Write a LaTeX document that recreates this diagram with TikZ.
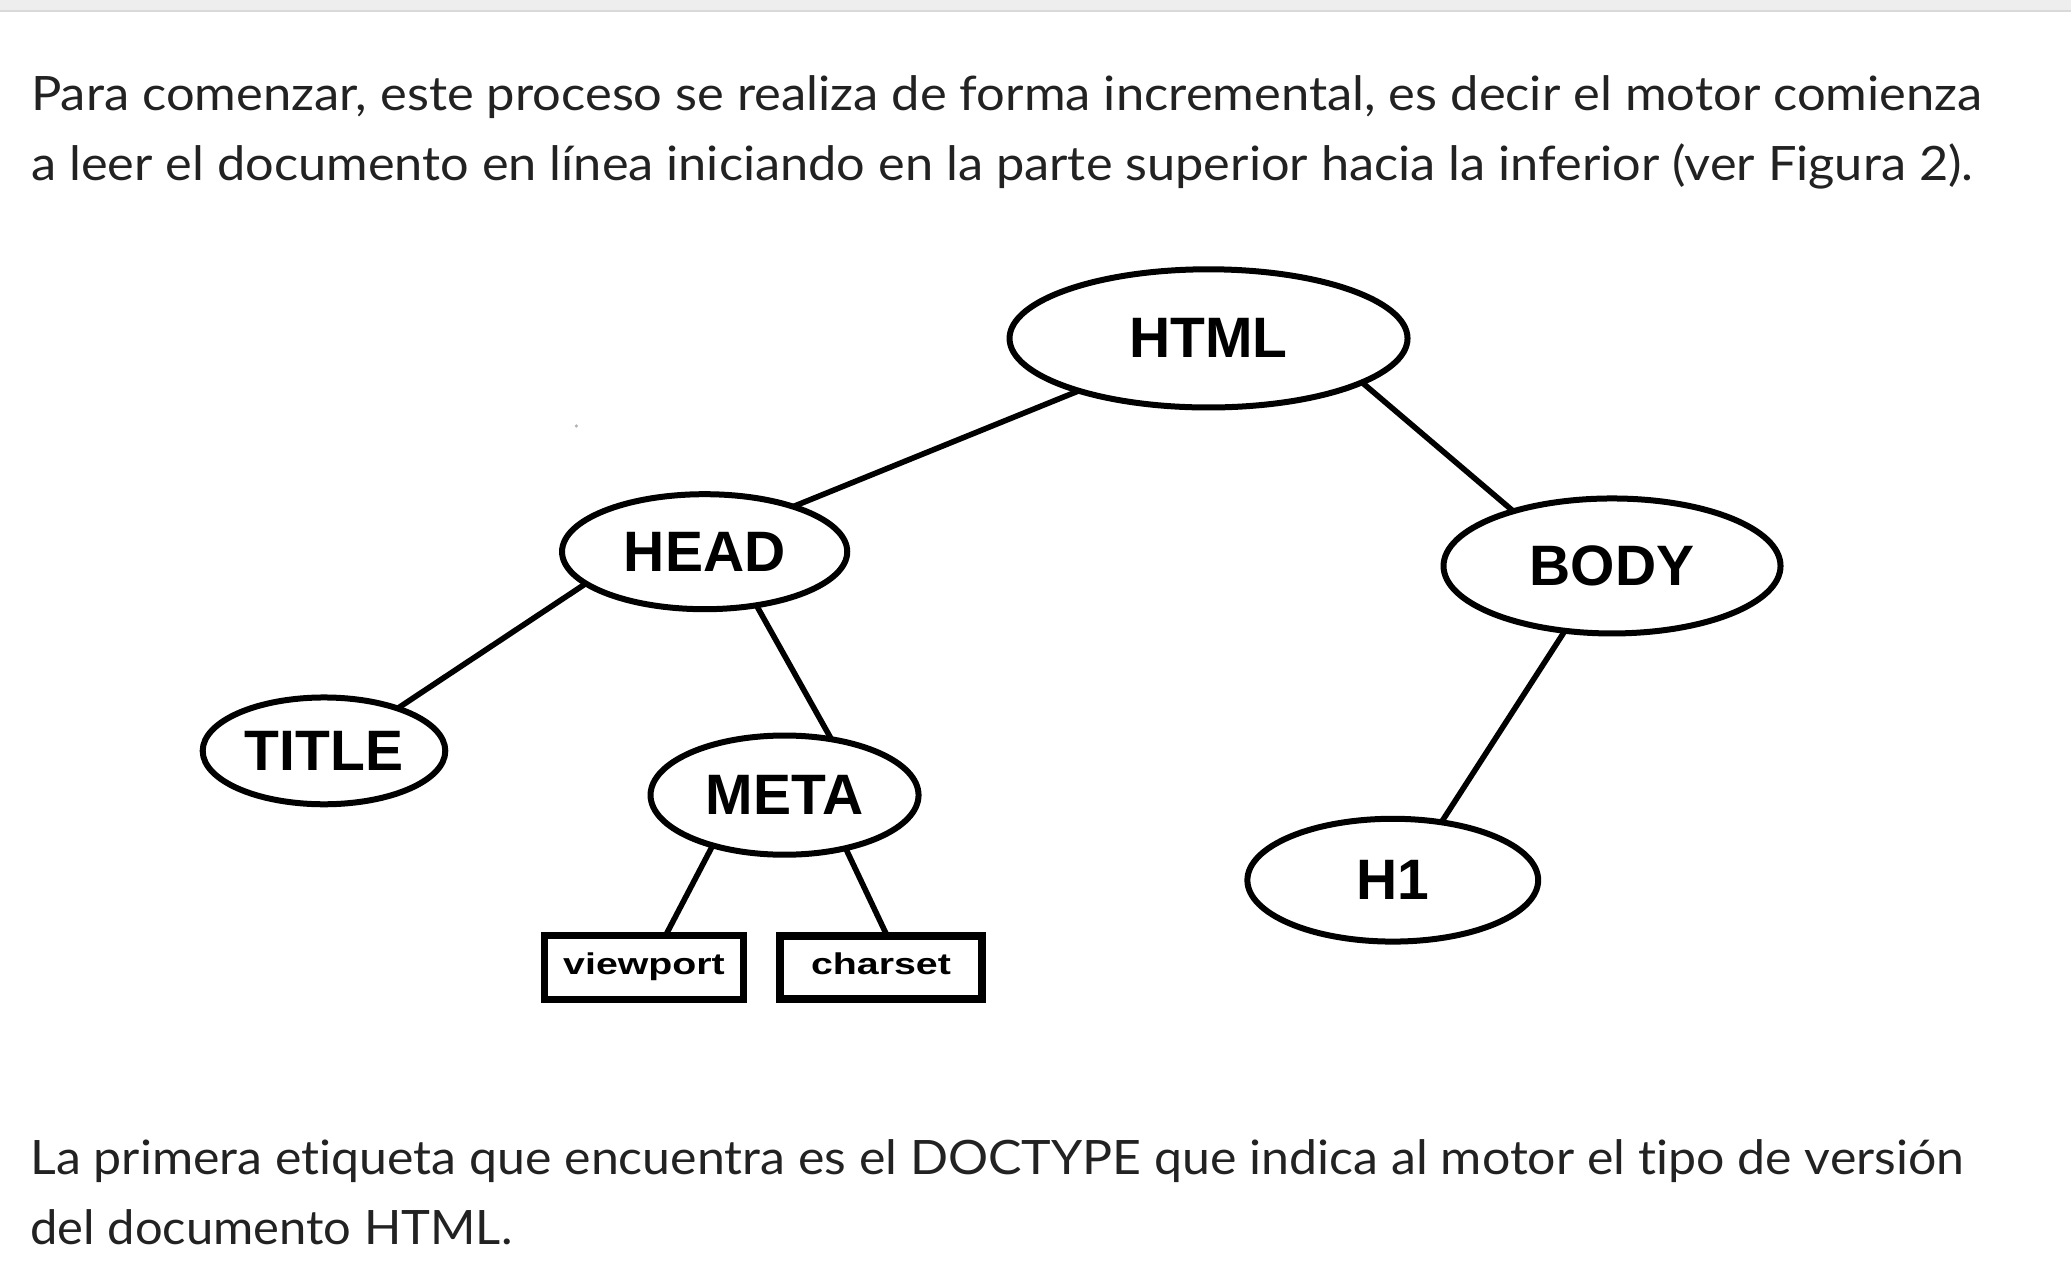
\documentclass[tikz,border=0pt]{standalone}
\usepackage{fontspec}
\usepackage{graphicx}
\setmainfont{Lato}[Ligatures=NoCommon]
\newfontfamily\diagfont{Liberation Sans}
\usetikzlibrary{shapes.geometric, calc, positioning}
\definecolor{texto}{HTML}{222222}
\definecolor{barra}{HTML}{EEEEEE}

\begin{document}
\begin{tikzpicture}[x=0.6604pt, y=-0.6604pt,
    every node/.style={inner sep=0pt, outer sep=0pt},
    tag/.style={ellipse, draw, line width=3pt, font=\diagfont\bfseries\fontsize{28.5}{30}\selectfont},
    attr/.style={rectangle, draw, line width=3.8pt, text height=10pt, text depth=3pt,
        font=\diagfont\bfseries\fontsize{15}{16}\selectfont},
    link/.style={line width=2.8pt},
    para/.style={anchor=base west, text=texto, font=\fontsize{23.7}{28}\selectfont}]

    % 0. 画布与顶部灰条
    \useasboundingbox (0,0) rectangle (1568,966.8);
    \fill[white] (0,0) rectangle (1568,966.8);
    \fill[barra] (0,0) rectangle (1568,8.3);
    \draw[gray!30, line width=0.8pt] (0,8.3) -- (1568,8.3);

    % 1. 上方段落
    \node[para] (linea1) at (23.6,83.3) {\resizebox{975.7pt}{\height}{Para comenzar, este proceso se realiza de forma incremental, es decir el motor comienza}};
    \node[para] (linea2) at (23.6,136.3) {\resizebox{971.1pt}{\height}{a leer el documento en línea iniciando en la parte superior hacia la inferior (ver Figura 2).}};

    % 2. 树的节点 (椭圆)
    \node[tag, minimum width=199pt, minimum height=69.1pt] (html) at (915,256.2) {HTML};
    \node[tag, minimum width=142.6pt, minimum height=57.5pt] (head) at (533.5,417.7) {HEAD};
    \node[tag, minimum width=168.5pt, minimum height=67.5pt] (body) at (1220.5,428.5) {BODY};
    \node[tag, minimum width=121.3pt, minimum height=53.4pt] (title) at (245.3,568.5) {TITLE};
    \node[tag, minimum width=134pt, minimum height=59.6pt] (meta) at (594,602) {META};
    \node[tag, minimum width=145.4pt, minimum height=61.4pt] (h1) at (1054.5,666.4) {H1};

    % 属性框
    \node[attr, minimum width=99.5pt, minimum height=32pt] (viewport) at (487.6,732.5) {\scalebox{1.31}[1]{viewport}};
    \node[attr, minimum width=100.9pt, minimum height=31.6pt] (charset) at (667,732.5) {\scalebox{1.31}[1]{charset}};

    % 小点
    \fill[gray!60] (436.4,322.5) circle (1.3);

    % 3. 连接线
    \draw[link] (html.202.5) -- (head.27);
    \draw[link] (html.344) -- (body.151);
    \draw[link] (head.195) -- (title.30.8);
    \draw[link] (head.314.5) -- (meta.50.8);
    \draw[link] (body.234.2) -- (h1.50);
    \draw[link] (meta.215.7) -- (viewport.56.4);
    \draw[link] (meta.319.2) -- (charset.79);

    % 4. 下方段落
    \node[para] (linea3) at (23,889.6) {\resizebox{966.8pt}{\height}{La primera etiqueta que encuentra es el DOCTYPE que indica al motor el tipo de versión}};
    \node[para] (linea4) at (23,942.6) {\resizebox{241pt}{\height}{del documento HTML.}};

\end{tikzpicture}
\end{document}
